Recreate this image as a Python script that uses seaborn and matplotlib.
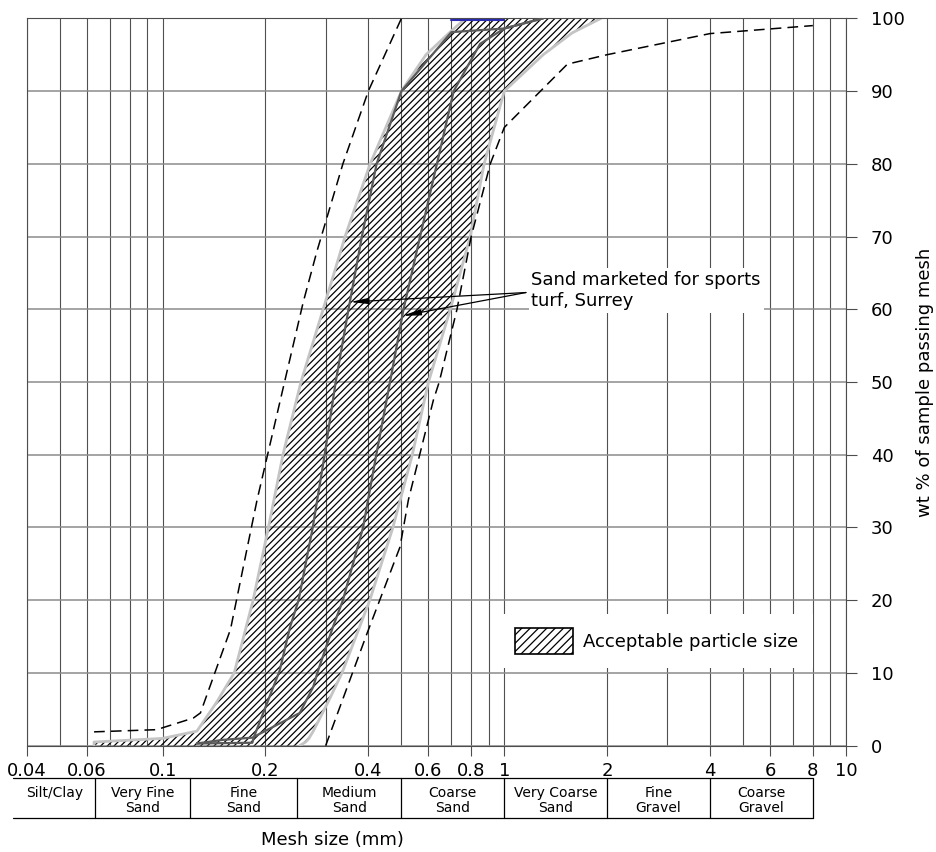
import matplotlib

matplotlib.use("Agg")
import matplotlib.pyplot as plt
import matplotlib.transforms as mtransforms
import numpy as np
import seaborn as sns
from matplotlib.patches import Patch
from matplotlib.ticker import FixedLocator, NullFormatter

sns.set_theme(style="white", rc={"text.color": "black", "xtick.color": "black",
                                 "ytick.color": "black", "axes.labelcolor": "black"})
plt.rcParams["font.family"] = ["DejaVu Sans"]
plt.rcParams["hatch.color"] = "black"
plt.rcParams["hatch.linewidth"] = 0.9

# outer grading limits (dashed), mesh size in mm vs wt % passing
fine_limit_mm = [0.063, 0.096, 0.123, 0.129, 0.158, 0.177, 0.189, 0.221, 0.258, 0.283, 0.337, 0.40, 0.50]
fine_limit_pct = [1.9, 2.2, 3.8, 4.5, 16, 27.3, 33.8, 47.5, 61, 68, 80, 90, 100]
coarse_limit_mm = [0.30, 0.397, 0.495, 0.524, 0.62, 0.645, 0.727, 0.80, 0.91, 1.0, 1.53, 2.0, 4.0, 8.0]
coarse_limit_pct = [0, 15.5, 27.3, 33.8, 47.5, 50, 60, 70, 80, 85, 93.7, 95, 97.9, 99]

# acceptable particle size band
band_pct = [0, 0.5, 1, 2, 6, 10, 20, 30, 40, 50, 60, 70, 80, 90, 95, 98, 100]
band_fine_mm = [0.063, 0.063, 0.10, 0.126, 0.144, 0.162, 0.184, 0.204, 0.225, 0.254,
                0.295, 0.342, 0.405, 0.50, 0.59, 0.69, 0.77]
band_coarse_mm = [0.252, 0.262, 0.268, 0.276, 0.305, 0.335, 0.404, 0.472, 0.538, 0.60,
                  0.695, 0.795, 0.873, 1.0, 1.3, 1.58, 1.92]

# two sands marketed for sports turf, Surrey
sand_a_mm = [0.126, 0.183, 0.185, 0.197, 0.22, 0.236, 0.25, 0.275, 0.298, 0.321, 0.35,
             0.383, 0.423, 0.50, 0.70, 1.0, 1.3]
sand_a_pct = [0.3, 0.4, 1.2, 4.5, 10.3, 16.3, 20, 30, 40, 50, 60, 70, 80, 90, 98.1, 98.6, 100]
sand_b_mm = [0.126, 0.15, 0.183, 0.252, 0.276, 0.285, 0.315, 0.337, 0.386, 0.422, 0.463,
             0.507, 0.567, 0.635, 0.711, 0.85, 1.0, 1.3]
sand_b_pct = [0.3, 0.8, 1.1, 4.5, 8.1, 10.3, 16.3, 20, 30, 40, 50, 60, 70, 80, 90, 96.5, 98.6, 100]
top_mark_mm = [0.7, 1.0]
top_mark_pct = [99.8, 99.8]

# annotation: arrow tail and heads
note_tail = (1.157, 62.3)
note_heads = [(0.354, 61.0), (0.504, 59.1)]

mesh_ticks = [0.04, 0.06, 0.1, 0.2, 0.4, 0.6, 0.8, 1, 2, 4, 6, 8, 10]
mesh_labels = ["0.04", "0.06", "0.1", "0.2", "0.4", "0.6", "0.8", "1", "2", "4", "6", "8", "10"]
pct_ticks = list(range(0, 101, 10))

size_classes = ["Silt/Clay", "Very Fine\nSand", "Fine\nSand", "Medium\nSand", "Coarse\nSand",
                "Very Coarse\nSand", "Fine\nGravel", "Coarse\nGravel"]
class_edges_mm = [0.0366, 0.0636, 0.12, 0.248, 0.50, 1.0, 2.0, 4.0, 8.0]

fig = plt.figure(figsize=(9.36, 8.52), dpi=100)
ax = fig.add_axes([0.0285, 0.1248, 0.8753, 0.8537])
ax.set_xscale("log")

ax.fill_betweenx(band_pct, band_fine_mm, band_coarse_mm, facecolor="none",
                 edgecolor="black", linewidth=0, hatch="/////", zorder=1)
for xs in (band_fine_mm, band_coarse_mm):
    sns.lineplot(x=xs, y=band_pct, sort=False, estimator=None, color="#c4c4c4",
                 lw=2.0, ax=ax, zorder=2)

for xs, ys in ((sand_a_mm, sand_a_pct), (sand_b_mm, sand_b_pct)):
    sns.lineplot(x=xs, y=ys, sort=False, estimator=None, color="#5a5a5a",
                 lw=1.6, ax=ax, zorder=3)
sns.lineplot(x=top_mark_mm, y=top_mark_pct, sort=False, estimator=None,
             color="#2a2ab0", lw=1.5, ax=ax, zorder=3)

for xs, ys in ((fine_limit_mm, fine_limit_pct), (coarse_limit_mm, coarse_limit_pct)):
    sns.lineplot(x=xs, y=ys, sort=False, estimator=None, color="black", lw=1.1,
                 linestyle=(0, (7, 4)), ax=ax, zorder=3)

ax.text(1.2, 62.6, "Sand marketed for sports\nturf, Surrey", fontsize=13, ha="left",
        va="center", linespacing=1.25, zorder=5,
        bbox=dict(boxstyle="square,pad=0.15", fc="white", ec="none"))
for head in note_heads:
    ax.annotate("", xy=head, xytext=note_tail, zorder=6,
                arrowprops=dict(arrowstyle="-|>,head_length=0.9,head_width=0.15",
                                color="black", lw=0.9, shrinkA=0, shrinkB=0))

ax.set_xlim(0.04, 10)
ax.set_ylim(0, 100)
ax.xaxis.set_major_locator(FixedLocator(mesh_ticks))
ax.set_xticklabels(mesh_labels)
minor = [m * 10.0 ** e for e in (-2, -1, 0) for m in range(1, 10)]
ax.xaxis.set_minor_locator(FixedLocator([v for v in minor if 0.04 <= v <= 10]))
ax.xaxis.set_minor_formatter(NullFormatter())
ax.set_yticks(pct_ticks)
ax.yaxis.tick_right()
ax.tick_params(axis="x", which="major", bottom=True, length=7, width=0.8,
               color="#4d4d4d", pad=5, labelsize=13)
ax.tick_params(axis="x", which="minor", length=0)
ax.tick_params(axis="y", right=True, left=False, length=8, width=0.8,
               color="#4d4d4d", pad=10, labelsize=13)
ax.xaxis.grid(True, which="both", color="#505050", lw=0.8)
ax.yaxis.grid(True, color="#8c8c8c", lw=1.1)
ax.set_axisbelow(True)
for sp in ax.spines.values():
    sp.set_color("#4d4d4d")
    sp.set_linewidth(0.8)

ax.set_ylabel("wt % of sample passing mesh", fontsize=13)
ax.yaxis.set_label_position("right")
ax.yaxis.set_label_coords(1.0855, 0.5)
ax.set_xlabel("")

ax.legend(handles=[Patch(facecolor="white", edgecolor="black", hatch="////", lw=1.2,
                         label="Acceptable particle size")],
          loc="center", bbox_to_anchor=(0.769, 0.144), frameon=True, facecolor="white",
          edgecolor="none", framealpha=1, fancybox=False, handlelength=3.2,
          handleheight=1.8, handletextpad=0.6, borderpad=0.8, fontsize=13)

# size-class table under the axis
blend = mtransforms.blended_transform_factory(ax.transData, fig.transFigure)
tab_top, tab_bot = 1 - 777.7 / 852, 1 - 818.3 / 852
for yy in (tab_top, tab_bot):
    ax.plot([class_edges_mm[0], class_edges_mm[-1]], [yy, yy], transform=blend,
            clip_on=False, color="black", lw=0.9)
for xe in class_edges_mm[1:]:
    ax.plot([xe, xe], [tab_top, tab_bot], transform=blend, clip_on=False,
            color="black", lw=0.9)
for name, lo, hi in zip(size_classes, class_edges_mm[:-1], class_edges_mm[1:]):
    ax.text(np.sqrt(lo * hi), 1 - 786 / 852, name, transform=blend, ha="center",
            va="top", fontsize=10, linespacing=1.05)

fig.text(332 / 936, 1 - 840 / 852, "Mesh size (mm)", ha="center", va="center", fontsize=13)

fig.savefig("out.png", dpi=100)
